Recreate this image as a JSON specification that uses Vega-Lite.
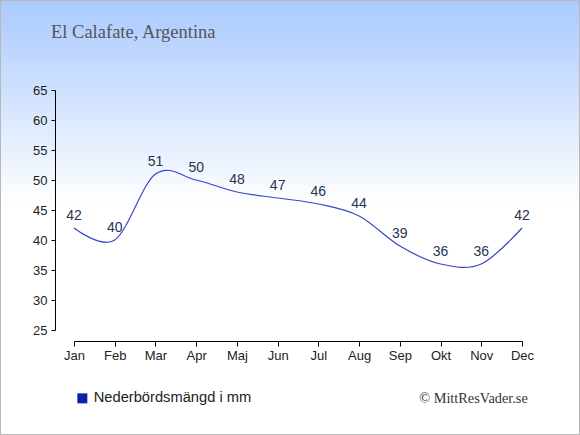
{
  "$schema": "https://vega.github.io/schema/vega-lite/v6.json",
  "width": 580,
  "height": 435,
  "autosize": "none",
  "padding": 0,
  "background": "white",
  "config": {
    "view": {
      "fill": {
        "gradient": "linear",
        "x1": 0, "y1": 0, "x2": 0, "y2": 1,
        "stops": [
          {"offset": 0, "color": "#a9c9fe"},
          {"offset": 0.47, "color": "#ffffff"},
          {"offset": 1, "color": "#ffffff"}
        ]
      },
      "stroke": "#b8b8b8",
      "strokeWidth": 2
    },
    "font": "Liberation Sans"
  },
  "title": {
    "text": "El Calafate, Argentina",
    "anchor": "start",
    "frame": "group",
    "font": "Liberation Serif",
    "fontSize": 18.5,
    "fontWeight": "normal",
    "color": "#555555",
    "baseline": "alphabetic",
    "offset": 0,
    "dx": 51,
    "dy": 56
  },
  "data": {
    "values": [
      {"month": "Jan", "mm": 42},
      {"month": "Feb", "mm": 40},
      {"month": "Mar", "mm": 51},
      {"month": "Apr", "mm": 50},
      {"month": "Maj", "mm": 48},
      {"month": "Jun", "mm": 47},
      {"month": "Jul", "mm": 46},
      {"month": "Aug", "mm": 44},
      {"month": "Sep", "mm": 39},
      {"month": "Okt", "mm": 36},
      {"month": "Nov", "mm": 36},
      {"month": "Dec", "mm": 42}
    ]
  },
  "encoding": {
    "x": {
      "field": "month",
      "type": "ordinal",
      "sort": null,
      "scale": {"type": "point", "range": [74, 522], "padding": 0},
      "axis": {
        "orient": "bottom",
        "offset": -94,
        "labelAngle": 0,
        "labelFont": "Liberation Sans",
        "labelFontSize": 13,
        "labelColor": "#222222",
        "labelPadding": 3,
        "tickSize": 5,
        "tickColor": "#000000",
        "domainColor": "#000000",
        "grid": false,
        "title": "© MittResVader.se",
        "titleFont": "Liberation Serif",
        "titleFontSize": 14.3,
        "titleFontWeight": "normal",
        "titleColor": "#333333",
        "titleX": 473,
        "titleY": 61,
        "titleAlign": "center",
        "titleBaseline": "alphabetic",
        "titleAnchor": null
      }
    },
    "y": {
      "field": "mm",
      "type": "quantitative",
      "scale": {"domain": [25, 65], "range": [330, 90], "nice": false, "zero": false},
      "axis": {
        "orient": "left",
        "offset": -55,
        "values": [25, 30, 35, 40, 45, 50, 55, 60, 65],
        "labelFont": "Liberation Sans",
        "labelFontSize": 13,
        "labelColor": "#222222",
        "labelPadding": 4,
        "tickSize": 4,
        "tickColor": "#000000",
        "domainColor": "#000000",
        "grid": false,
        "title": null
      }
    }
  },
  "layer": [
    {
      "mark": {"type": "line", "interpolate": "cardinal", "strokeWidth": 1.2},
      "encoding": {
        "color": {
          "datum": "Nederbördsmängd i mm",
          "type": "nominal",
          "scale": {"range": ["#3a45c8"]},
          "legend": {
            "orient": "none",
            "legendX": 75,
            "legendY": 391,
            "title": null,
            "padding": 0,
            "symbolType": "square",
            "symbolSize": 100,
            "symbolFillColor": "#0a20aa",
            "symbolStrokeColor": "#0a20aa",
            "symbolStrokeWidth": 0,
            "labelFont": "Liberation Sans",
            "labelFontSize": 14.7,
            "labelColor": "#222222",
            "labelOffset": 4,
            "encode": {
              "symbols": {
                "update": {
                  "fill": {"value": "#0a20aa"},
                  "stroke": {"value": "#0a20aa"},
                  "strokeWidth": {"value": 0}
                }
              }
            }
          }
        }
      }
    },
    {
      "mark": {
        "type": "text",
        "dy": -8,
        "baseline": "alphabetic",
        "align": "center",
        "font": "Liberation Sans",
        "fontSize": 14,
        "color": "#263550"
      },
      "encoding": {
        "text": {"field": "mm", "type": "quantitative"}
      }
    }
  ]
}
